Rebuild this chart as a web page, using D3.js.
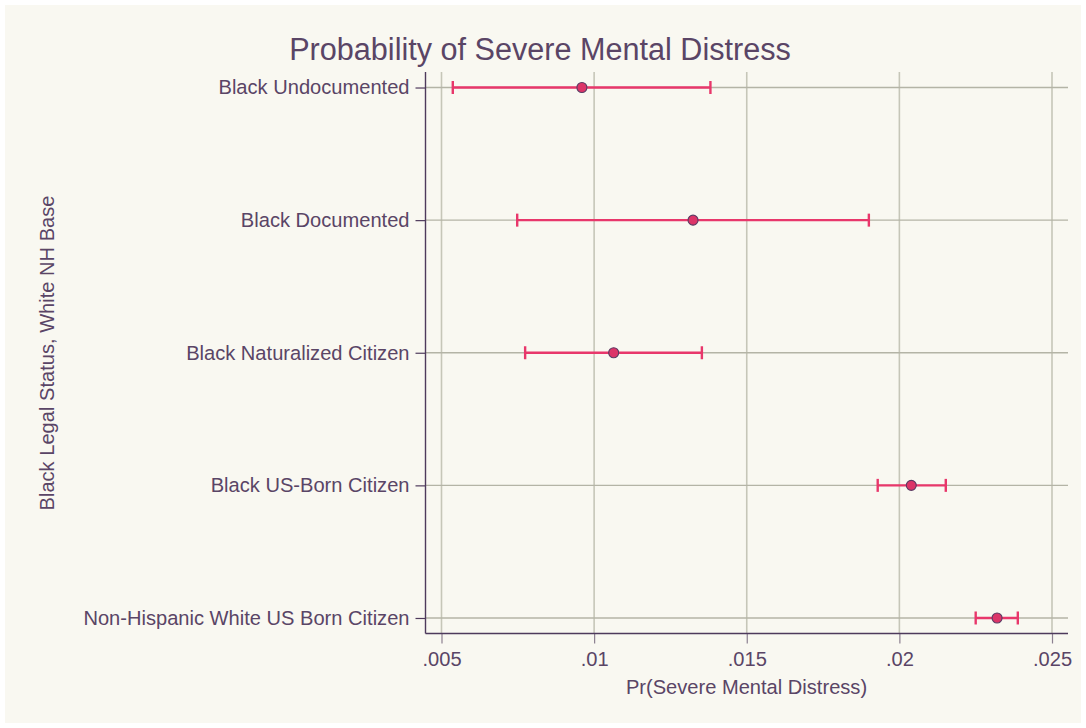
<!DOCTYPE html>
<html><head><meta charset="utf-8">
<script src="https://cdn.jsdelivr.net/npm/d3@7"></script>
<style>
html,body{margin:0;padding:0;background:#ffffff;}
svg{display:block;font-family:"Liberation Sans",Arial,Helvetica,sans-serif;}
</style></head>
<body>
<svg id="chart" width="1086" height="728"></svg>
<script>
const categories = ["Black Undocumented","Black Documented","Black Naturalized Citizen","Black US-Born Citizen","Non-Hispanic White US Born Citizen"];
const estimates = [0.00960, 0.01324, 0.01064, 0.02039, 0.02320];
const lower = [0.00537, 0.00748, 0.00774, 0.01929, 0.02250];
const upper = [0.01381, 0.01900, 0.01353, 0.02152, 0.02388];
const xTicks = [0.005, 0.01, 0.015, 0.02, 0.025];
const xTickLabels = [".005", ".01", ".015", ".02", ".025"];

(function(){
const svg = d3.select("#chart");
const W = 1086, H = 728;
const textCol = "#5a4566";
const axisCol = "#4e3a5c";
const gridCol = "#b4b4a6";
const barCol = "#e8376b";
const fs = 20.1;

svg.append("rect").attr("x",5).attr("y",5).attr("width",W-10).attr("height",H-10).attr("fill","#f9f8f1");

const pl = 425.5, pr = 1068, pt = 72, pb = 633.5;
const x = d3.scaleLinear().domain([0.004476, 0.025524]).range([pl, pr]);
const y = d3.scalePoint().domain(categories).range([pt, pb]).padding(0.117);

svg.append("g").selectAll("line").data(xTicks).join("line")
  .attr("x1", d => x(d)).attr("x2", d => x(d))
  .attr("y1", pt).attr("y2", pb)
  .attr("stroke", "#c6c6b8").attr("stroke-width", 1.6);
svg.append("g").selectAll("line").data(categories).join("line")
  .attr("x1", pl).attr("x2", pr)
  .attr("y1", d => y(d)).attr("y2", d => y(d))
  .attr("stroke", gridCol).attr("stroke-width", 1.3);

const xAxis = d3.axisBottom(x).tickValues(xTicks).tickFormat((d,i) => xTickLabels[i]).tickSize(10).tickPadding(8);
const gx = svg.append("g").attr("transform", `translate(0,${pb})`).call(xAxis);
gx.select(".domain").remove();
gx.selectAll(".tick line").attr("stroke", "#8c8090").attr("stroke-width", 1.2);
gx.selectAll(".tick text").attr("fill", textCol).attr("font-size", fs).attr("font-family","Liberation Sans, Arial, sans-serif");
svg.append("line").attr("x1", pl).attr("x2", pr).attr("y1", pb).attr("y2", pb)
  .attr("stroke", axisCol).attr("stroke-width", 1.4);

const yAxis = d3.axisLeft(y).tickSize(10).tickPadding(6);
const gy = svg.append("g").attr("transform", `translate(${pl},0)`).call(yAxis);
gy.select(".domain").remove();
gy.selectAll(".tick line").attr("stroke", axisCol).attr("stroke-width", 1.2);
gy.selectAll(".tick text").attr("fill", textCol).attr("font-size", fs).attr("font-family","Liberation Sans, Arial, sans-serif");
svg.append("line").attr("x1", pl).attr("x2", pl).attr("y1", pt).attr("y2", pb)
  .attr("stroke", axisCol).attr("stroke-width", 1.4);

const rows = categories.map((c,i) => ({c, est: estimates[i], lo: lower[i], hi: upper[i]}));
const eb = svg.append("g");
eb.selectAll("line.bar").data(rows).join("line").attr("class","bar")
  .attr("x1", d => x(d.lo)).attr("x2", d => x(d.hi))
  .attr("y1", d => y(d.c)).attr("y2", d => y(d.c))
  .attr("stroke", barCol).attr("stroke-width", 2.4);
eb.selectAll("line.capl").data(rows).join("line").attr("class","capl")
  .attr("x1", d => x(d.lo)).attr("x2", d => x(d.lo))
  .attr("y1", d => y(d.c) - 6.5).attr("y2", d => y(d.c) + 6.5)
  .attr("stroke", barCol).attr("stroke-width", 2.4);
eb.selectAll("line.caph").data(rows).join("line").attr("class","caph")
  .attr("x1", d => x(d.hi)).attr("x2", d => x(d.hi))
  .attr("y1", d => y(d.c) - 6.5).attr("y2", d => y(d.c) + 6.5)
  .attr("stroke", barCol).attr("stroke-width", 2.4);
eb.selectAll("circle").data(rows).join("circle")
  .attr("cx", d => x(d.est)).attr("cy", d => y(d.c)).attr("r", 5)
  .attr("fill", "#dc3468").attr("stroke", "#5a3a62").attr("stroke-width", 1.1);

svg.append("text").attr("x", 540).attr("y", 60).attr("text-anchor","middle")
  .attr("fill", textCol).attr("font-size", 30.6).text("Probability of Severe Mental Distress");
svg.append("text").attr("x", 746.5).attr("y", 694).attr("text-anchor","middle")
  .attr("fill", textCol).attr("font-size", fs).text("Pr(Severe Mental Distress)");
svg.append("text").attr("transform", "translate(54,353) rotate(-90)").attr("text-anchor","middle")
  .attr("fill", textCol).attr("font-size", fs).text("Black Legal Status, White NH Base");
})();
</script>
</body></html>
